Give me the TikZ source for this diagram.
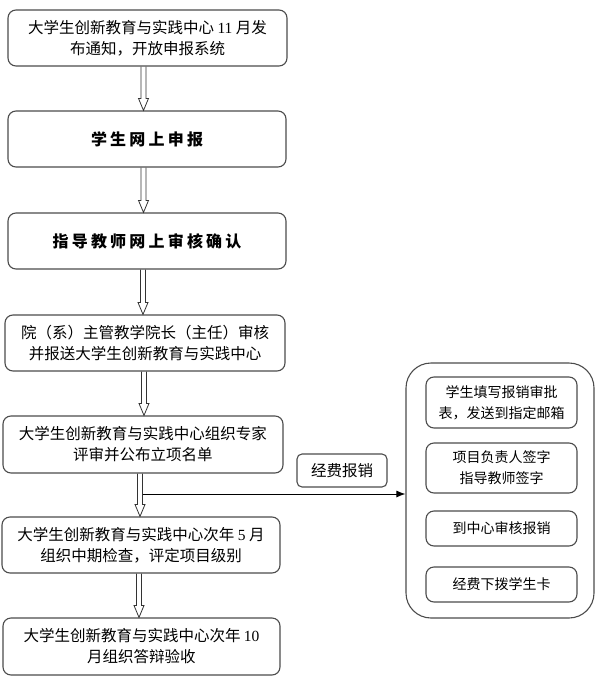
\documentclass[tikz,border=0pt]{standalone}
\usepackage{fontspec}
\setmainfont{Liberation Serif}
\newfontfamily\cjk{Noto Sans CJK SC}
\newfontfamily\cjkwide[LetterSpace=20]{Noto Sans CJK SC}
\usetikzlibrary{calc,arrows.meta}
\tikzset{
  stagebox/.style={draw=black!70, line width=1.1pt, rounded corners=8pt, minimum width=278pt, minimum height=56pt, inner sep=2pt, align=center, font=\cjk\fontsize{15.5}{21}\selectfont},
  stepbox/.style={draw=black!70, line width=1.1pt, rounded corners=8pt, minimum width=151pt, inner sep=2pt, align=center, font=\cjk\fontsize{14}{21}\selectfont},
  hollow/.style={draw=black!80, line width=0.8pt, to path={let \p1=(\tikztostart), \p2=(\tikztotarget) in (\x1-2.5pt,\y1) -- (\x1-2.5pt,\y2+12pt) -- (\x1-5pt,\y2+12pt) -- (\x1,\y2) -- (\x1+5pt,\y2+12pt) -- (\x1+2.5pt,\y2+12pt) -- (\x1+2.5pt,\y1)}}
}
\begin{document}
\begin{tikzpicture}[x=1pt, y=-1pt]
  \useasboundingbox (0,0) rectangle (597,680);

  % Notice
  \node[stagebox, minimum width=279pt] (notice) at (147.5,38) {大学生创新教育与实践中心 {\rmfamily 11} 月发\\布通知，开放申报系统};

  % Student application
  \node[stagebox, font=\cjkwide\bfseries\fontsize{16}{21}\selectfont] (apply) at (147,139) {学生网上申报};
  \draw[hollow] ([xshift=-4pt]notice.south) to (apply.north);

  % Advisor check
  \node[stagebox, font=\cjkwide\bfseries\fontsize{16}{21}\selectfont] (advisor) at (147,241) {指导教师网上审核确认};
  \draw[hollow] ([xshift=-3.5pt]apply.south) to (advisor.north);

  % Dean check
  \node[stagebox, minimum width=280pt] (dean) at (145,343) {院（系）主管教学院长（主任）审核\\并报送大学生创新教育与实践中心};
  \draw[hollow] ([xshift=-4pt]advisor.south) to (dean.north);

  % Expert review
  \node[stagebox, minimum width=280pt, minimum height=57pt] (review) at (143,444.5) {大学生创新教育与实践中心组织专家\\评审并公布立项名单};
  \draw[hollow] ([xshift=-1pt]dean.south) to (review.north);

  % Midterm check
  \node[stagebox] (midterm) at (141,545) {大学生创新教育与实践中心次年 {\rmfamily 5} 月\\组织中期检查，评定项目级别};
  \draw[hollow] ([xshift=-3pt]review.south) to (midterm.north);

  % Final defence
  \node[stagebox, minimum width=277pt, minimum height=57pt] (final) at (141.5,646.5) {大学生创新教育与实践中心次年 {\rmfamily 10}\\月组织答辩验收};
  \draw[hollow] ([xshift=-2pt]midterm.south) to (final.north);

  % Funding reimbursement
  \node[draw=black!70, line width=1.1pt, rounded corners=5pt, minimum width=90pt, minimum height=33pt, font=\cjk\fontsize{15.5}{21}\selectfont] (funding) at (342,470.5) {经费报销};
  \node[draw=black!70, line width=1.1pt, rounded corners=25pt, minimum width=188pt, minimum height=255pt] (steps) at (500,490.5) {};
  \coordinate (split) at (142.5,494);
  \draw[-{Latex[length=9pt,width=7pt]}, line width=1pt] (split) -- (split -| steps.west);

  % Reimbursement steps
  \node[stepbox, minimum height=51pt] (form) at (501.5,402.5) {学生填写报销审批\\表，发送到指定邮箱};
  \node[stepbox, minimum height=50pt] (sign) at (501.5,468) {项目负责人签字\\指导教师签字};
  \node[stepbox, minimum height=35pt] (audit) at (501.5,528.5) {到中心审核报销};
  \node[stepbox, minimum height=35pt] (card) at (501.5,584.5) {经费下拨学生卡};
\end{tikzpicture}
\end{document}
